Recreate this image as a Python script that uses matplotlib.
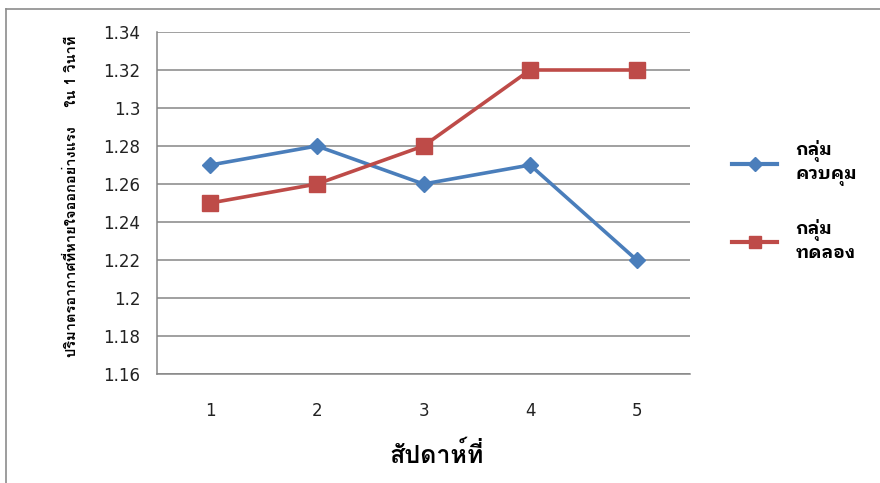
import matplotlib
matplotlib.use("Agg")
import matplotlib.pyplot as plt
from matplotlib.lines import Line2D

# weekly FEV1 values for the two groups
weeks = [1, 2, 3, 4, 5]
control = [1.27, 1.28, 1.26, 1.27, 1.22]
experiment = [1.25, 1.26, 1.28, 1.32, 1.32]
y_ticks = [1.16, 1.18, 1.2, 1.22, 1.24, 1.26, 1.28, 1.3, 1.32, 1.34]
y_tick_labels = ["1.16", "1.18", "1.2", "1.22", "1.24", "1.26", "1.28", "1.3", "1.32", "1.34"]
control_label = "กลุ่ม\nควบคุม"
experiment_label = "กลุ่ม\nทดลอง"
x_title = "สัปดาห์ที่"
y_title = "ปริมาตรอากาศที่หายใจออกอย่างแรง    ใน 1 วินาที"

THAI = ["Loma", "Noto Sans Thai Looped", "DejaVu Sans"]
THAI_LEG = ["IBM Plex Sans Thai Looped", "Noto Sans Thai Looped", "DejaVu Sans"]
NUM = ["DejaVu Sans"]
GRID = "#868686"
BLUE = "#4a7ebb"
RED = "#be4b48"

fig = plt.figure(figsize=(8.8, 4.83), dpi=100)
ax = fig.add_axes([157 / 880, 1 - 374 / 483, (690 - 157) / 880, (374 - 32) / 483])

ax.plot(weeks, control, color=BLUE, lw=2.6, marker="D", ms=8, label=control_label, zorder=3)
ax.plot(weeks, experiment, color=RED, lw=2.6, marker="s", ms=11, label=experiment_label, zorder=4)

ax.set_xlim(0.5, 5.5)
ax.set_ylim(1.16, 1.34)
ax.set_yticks(y_ticks)
ax.set_yticklabels(y_tick_labels)
ax.set_xticks(weeks)
ax.set_xticklabels([str(w) for w in weeks])
ax.tick_params(axis="both", length=0, labelsize=12, colors="#222222")
ax.tick_params(axis="y", pad=12)
ax.tick_params(axis="x", pad=20)
for lab in ax.get_xticklabels() + ax.get_yticklabels():
    lab.set_family(NUM)

ax.grid(axis="y", color=GRID, lw=1.1)
ax.set_axisbelow(True)
for side in ("top", "right"):
    ax.spines[side].set_visible(False)
for side in ("left", "bottom"):
    ax.spines[side].set_color(GRID)
    ax.spines[side].set_linewidth(1.1)

fig.text(437 / 880, 1 - 455 / 483, x_title, ha="center", va="center",
         fontsize=18, fontweight="bold", family=THAI)
fig.text(72 / 880, 1 - 196 / 483, y_title, ha="center", va="center", rotation=90,
         fontsize=10.5, fontweight="bold", family=THAI)

handles = [
    Line2D([], [], color=BLUE, lw=3, marker="D", ms=7),
    Line2D([], [], color=RED, lw=3, marker="s", ms=9),
]
fig.legend(handles, [control_label, experiment_label], loc="upper left",
           bbox_to_anchor=(716 / 880, 1 - 124 / 483), frameon=False,
           handlelength=2.5, handletextpad=1.0, labelspacing=1.85,
           prop={"family": THAI_LEG, "size": 13, "weight": "bold"})

# outer chart frame
fig.add_artist(Line2D([6 / 880, 1], [1 - 9 / 483, 1 - 9 / 483], transform=fig.transFigure,
                      color="#8c8c8c", lw=1.2))
fig.add_artist(Line2D([6 / 880, 6 / 880], [1 - 9 / 483, 0], transform=fig.transFigure,
                      color="#8c8c8c", lw=1.2))

fig.savefig("out.png", dpi=100)
